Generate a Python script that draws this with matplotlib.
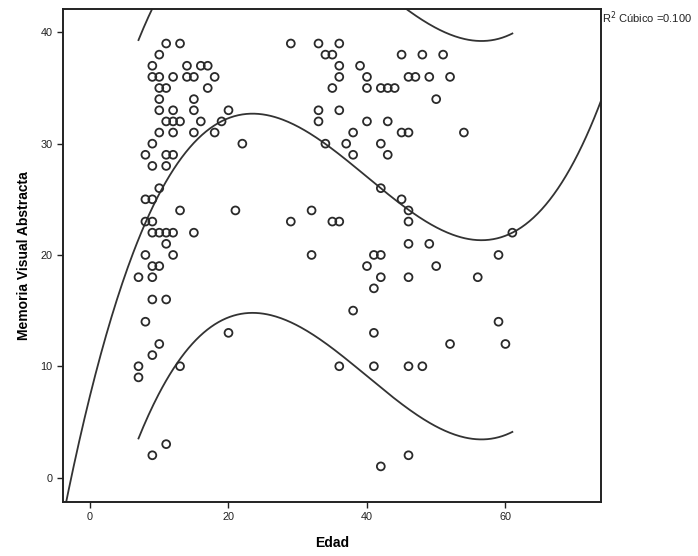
import numpy as np
import matplotlib.pyplot as plt

plt.rcParams['font.family'] = ['Liberation Sans', 'DejaVu Sans']

# Edad (años) y puntuación de memoria visual abstracta de cada sujeto
edad = [11, 13, 10, 9, 14, 16, 17, 9, 10, 12, 14, 15, 18, 10, 11, 17, 10, 15,
        10, 12, 15, 20, 11, 12, 13, 16, 19, 10, 12, 15, 18, 9, 22, 8, 11, 12,
        9, 11, 10, 8, 9, 13, 21, 8, 9, 9, 10, 11, 12, 15, 11, 8, 12, 9, 10,
        7, 9, 9, 11, 8, 20, 10, 9, 7, 13, 7, 11, 9,
        29, 33, 36, 34, 35, 45, 48, 51, 36, 39, 36, 40, 46, 47, 49, 52,
        35, 40, 42, 43, 44, 50, 33, 36, 33, 40, 43, 38, 45, 46, 54,
        34, 37, 42, 38, 43, 42, 45, 32, 46, 29, 35, 36, 46, 61, 46, 49,
        32, 41, 42, 59, 40, 50, 42, 46, 56, 41, 38, 59, 41, 52, 60,
        36, 41, 46, 48, 46, 42]
memoria = [39, 39, 38, 37, 37, 37, 37, 36, 36, 36, 36, 36, 36, 35, 35, 35, 34, 34,
           33, 33, 33, 33, 32, 32, 32, 32, 32, 31, 31, 31, 31, 30, 30, 29, 29, 29,
           28, 28, 26, 25, 25, 24, 24, 23, 23, 22, 22, 22, 22, 22, 21, 20, 20, 19, 19,
           18, 18, 16, 16, 14, 13, 12, 11, 10, 10, 9, 3, 2,
           39, 39, 39, 38, 38, 38, 38, 38, 37, 37, 36, 36, 36, 36, 36, 36,
           35, 35, 35, 35, 35, 34, 33, 33, 32, 32, 32, 31, 31, 31, 31,
           30, 30, 30, 29, 29, 26, 25, 24, 24, 23, 23, 23, 23, 22, 21, 21,
           20, 20, 20, 20, 19, 19, 18, 18, 18, 17, 15, 14, 13, 12, 12,
           10, 10, 10, 10, 2, 1]

# ajuste cúbico: constante, lineal, cuadrático, cúbico
coef_cubico = [7.36, 2.505, -0.0755, 0.000629]
r2_cubico = 0.100
semi_ic = 17.9   # semiamplitud del intervalo de predicción individual (95 %)

edad = np.array(edad, dtype=float)
memoria = np.array(memoria, dtype=float)


def prediccion(x):
    return sum(c * x ** i for i, c in enumerate(coef_cubico))


fig = plt.figure(figsize=(6.98, 5.56), dpi=100)
ax = fig.add_axes([0.0903, 0.0971, 0.7707, 0.8867])

xmin, xmax = -3.9, 73.8
ymin, ymax = -2.2, 42.1

ax.scatter(edad, memoria, s=32, facecolors='none', edgecolors='#2a2a2a',
           linewidths=1.3, zorder=3)

# línea de ajuste sobre todo el eje
xs = np.linspace(xmin, xmax, 400)
ax.plot(xs, prediccion(xs), color='#333333', lw=1.3)

# bandas sólo en el rango observado
xr = np.linspace(edad.min(), edad.max(), 300)
ax.plot(xr, prediccion(xr) + semi_ic, color='#333333', lw=1.3)
ax.plot(xr, prediccion(xr) - semi_ic, color='#333333', lw=1.3)

ax.set_xlim(xmin, xmax)
ax.set_ylim(ymin, ymax)
ax.set_xticks([0, 20, 40, 60])
ax.set_yticks([0, 10, 20, 30, 40])
ax.tick_params(direction='out', length=4, width=1, labelsize=7.8, colors='#222222')

for lado in ax.spines.values():
    lado.set_linewidth(1.4)
    lado.set_color('#222222')

ax.set_xlabel('Edad', fontsize=10, fontweight='bold', labelpad=10)
ax.set_ylabel('Memoria Visual Abstracta', fontsize=10, fontweight='bold', labelpad=7)

fig.text(0.863, 0.968, f'R$^2$ Cúbico ={r2_cubico:.3f}', fontsize=8,
         ha='left', va='center', color='#222222')

fig.savefig('out.png', dpi=100)
